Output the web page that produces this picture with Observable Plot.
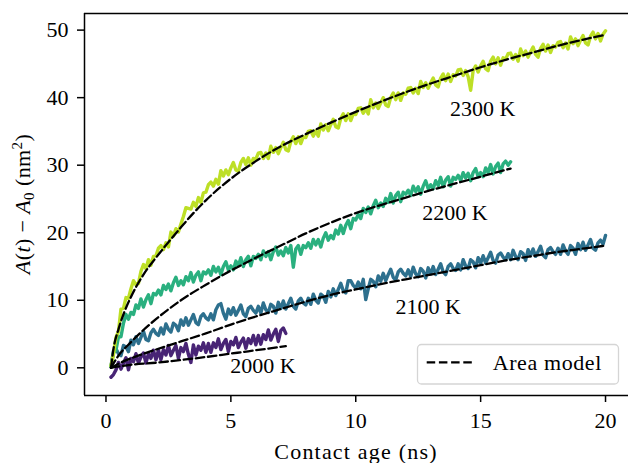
<!DOCTYPE html>
<html><head><meta charset="utf-8">
<script src="https://cdn.jsdelivr.net/npm/d3@7"></script>
<script src="https://cdn.jsdelivr.net/npm/@observablehq/plot@0.6"></script>
<style>
html,body{margin:0;padding:0;background:#fff;}
#chart svg{display:block;}
</style></head><body><div id="chart"></div>
<script>
// time grid (ns), 0.2 ... 20.0
const t = [0.2,0.3,0.4,0.5,0.6,0.7,0.8,0.9,
1,1.1,1.2,1.3,1.4,1.5,1.6,1.7,1.8,1.9,
2,2.1,2.2,2.3,2.4,2.5,2.6,2.7,2.8,2.9,
3,3.1,3.2,3.3,3.4,3.5,3.6,3.7,3.8,3.9,
4,4.1,4.2,4.3,4.4,4.5,4.6,4.7,4.8,4.9,
5,5.1,5.2,5.3,5.4,5.5,5.6,5.7,5.8,5.9,
6,6.1,6.2,6.3,6.4,6.5,6.6,6.7,6.8,6.9,
7,7.1,7.2,7.3,7.4,7.5,7.6,7.7,7.8,7.9,
8,8.1,8.2,8.3,8.4,8.5,8.6,8.7,8.8,8.9,
9,9.1,9.2,9.3,9.4,9.5,9.6,9.7,9.8,9.9,
10,10.1,10.2,10.3,10.4,10.5,10.6,10.7,10.8,10.9,
11,11.1,11.2,11.3,11.4,11.5,11.6,11.7,11.8,11.9,
12,12.1,12.2,12.3,12.4,12.5,12.6,12.7,12.8,12.9,
13,13.1,13.2,13.3,13.4,13.5,13.6,13.7,13.8,13.9,
14,14.1,14.2,14.3,14.4,14.5,14.6,14.7,14.8,14.9,
15,15.1,15.2,15.3,15.4,15.5,15.6,15.7,15.8,15.9,
16,16.1,16.2,16.3,16.4,16.5,16.6,16.7,16.8,16.9,
17,17.1,17.2,17.3,17.4,17.5,17.6,17.7,17.8,17.9,
18,18.1,18.2,18.3,18.4,18.5,18.6,18.7,18.8,18.9,
19,19.1,19.2,19.3,19.4,19.5,19.6,19.7,19.8,19.9,
20];

// A(t) - A0 (nm^2), simulation traces
const s2000 = [-1.4,-1.0,-0.3,0.8,-0.2,0.7,1.5,-0.3,
1.4,0.9,2.1,0.7,1.6,2.2,0.7,2.1,1.4,2.6,
1.2,2.6,1.2,2.7,1.9,3.3,1.8,2.6,3.3,1.4,
3.0,2.4,3.6,2.0,0.8,3.4,1.9,3.2,2.6,3.7,
2.3,3.6,2.3,3.7,3.0,4.3,2.7,3.6,4.2,2.4,
3.9,3.4,4.5,3.0,3.8,4.4,2.9,4.3,3.6,4.8,
3.4,4.8,3.5,4.9,4.2,5.6,4.1,5.0,5.7,3.9,
5.5,5.9,5.1];

const s2100 = [0.2,2.5,2.8,2.1,1.8,3.3,3.1,2.4,
4.1,3.4,4.6,3.6,4.5,5.4,4.2,4.0,5.2,5.7,
5.1,4.8,5.9,5.0,6.5,5.7,5.3,6.6,6.3,5.5,
7.1,6.3,7.4,6.3,7.1,7.9,6.7,6.4,7.6,8.0,
7.4,7.1,8.0,7.1,8.6,9.3,9.5,8.1,7.2,8.7,
7.9,8.9,7.8,8.5,9.3,8.0,7.6,8.8,9.1,8.5,
8.1,9.1,8.1,9.6,8.6,8.2,9.4,9.1,8.1,9.7,
8.8,9.9,8.7,9.5,10.3,9.1,8.7,9.9,10.3,9.6,
9.3,10.3,9.4,10.9,10.0,9.6,10.9,10.6,9.7,11.3,
10.5,11.7,10.7,11.6,12.5,11.4,11.1,12.9,12.9,12.2,
11.8,12.7,11.7,13.1,10.1,11.7,13.1,12.8,12.0,13.6,
12.8,14.0,12.9,13.8,14.6,13.4,13.0,14.2,14.6,14.0,
13.6,14.5,13.5,14.9,13.9,13.5,14.7,14.3,13.3,14.8,
13.9,15.0,13.8,14.6,15.4,14.2,13.8,15.0,15.4,14.7,
14.4,15.4,14.5,16.0,15.1,14.7,16.0,15.7,14.8,16.3,
15.5,16.6,15.5,16.3,17.1,15.9,15.5,16.7,17.0,16.4,
16.0,16.9,16.0,17.4,16.5,16.0,17.2,16.9,15.9,17.5,
16.6,17.6,16.5,17.2,18.0,16.7,16.3,17.5,17.8,17.2,
16.8,17.7,16.8,18.2,17.3,16.8,18.1,17.7,16.8,18.4,
17.5,18.6,17.4,18.2,19.0,17.7,17.4,18.5,18.9,18.3,
19.6];

const s2200 = [0.2,2.2,2.6,4.6,4.6,6.6,7.9,7.2,
8.2,7.9,9.3,8.8,10.2,9.0,10.1,10.8,9.5,11.0,
10.8,11.5,10.8,12.2,11.6,12.4,11.4,12.6,13.4,12.2,
12.9,12.3,13.5,12.9,14.1,12.7,13.7,14.2,12.9,14.2,
13.9,14.5,13.7,15.0,14.2,14.9,13.8,15.0,15.7,14.5,
15.1,14.5,15.8,15.1,16.3,15.0,16.0,16.5,15.1,16.5,
16.2,16.8,16.0,17.3,16.5,17.2,16.0,17.2,17.9,16.7,
17.3,16.6,17.8,17.0,18.1,14.9,17.6,18.1,16.8,18.1,
17.8,18.5,17.7,19.0,18.2,19.0,17.9,19.2,20.0,18.9,
19.6,19.1,20.4,19.8,21.1,19.9,21.1,21.8,20.6,22.1,
21.9,22.7,22.1,23.6,23.0,23.8,22.8,24.0,24.8,23.7,
24.4,23.9,25.1,24.5,25.8,24.4,25.5,26.0,24.6,26.0,
25.7,26.3,25.5,26.9,26.1,26.8,25.7,26.9,27.7,26.5,
27.1,26.5,27.7,27.0,28.2,26.8,27.8,28.3,26.9,28.2,
27.9,28.5,27.7,28.9,28.1,28.8,27.7,28.9,29.5,28.3,
28.9,28.3,29.6,28.9,30.1,28.7,29.8,30.3,28.9,30.2,
30.6,30.0,30.5];

const s2300 = [0.3,2.0,4.5,5.4,8.7,8.8,10.4,10.3,
11.7,12.9,12.3,12.5,14.3,15.3,14.7,16.0,15.2,16.5,
16.6,17.7,18.1,17.5,18.5,17.9,20.1,19.5,20.6,20.1,
21.3,22.4,23.7,23.6,23.5,24.5,23.9,25.2,24.5,25.9,
26.0,27.1,27.5,26.9,27.9,27.2,29.2,28.4,29.3,28.6,
29.6,30.4,29.3,29.1,30.4,31.0,30.1,31.1,30.0,31.0,
30.9,31.8,31.9,31.0,31.8,31.0,32.8,31.9,32.6,31.7,
32.6,33.4,32.3,32.1,33.5,34.2,33.2,34.2,33.2,34.2,
34.1,35.0,35.1,34.3,35.1,34.3,36.1,35.2,36.0,35.1,
36.0,36.8,35.7,35.5,36.9,37.6,36.6,37.6,36.6,37.6,
37.5,38.4,38.5,37.7,38.4,37.6,39.7,38.5,39.2,38.4,
39.2,40.0,38.9,38.7,40.0,40.7,39.7,40.7,39.6,40.7,
40.5,41.4,41.5,40.7,41.4,40.6,42.4,41.5,42.2,41.4,
42.2,42.9,41.9,41.6,42.9,43.5,42.5,43.5,42.4,43.4,
43.2,44.1,44.2,43.3,44.0,43.1,41.1,44.0,44.7,43.8,
44.7,45.4,44.3,44.0,45.4,46.0,45.0,45.9,44.8,45.9,
45.7,46.5,46.6,45.7,46.4,45.4,47.2,46.2,46.9,46.0,
46.8,47.5,46.4,46.0,47.3,47.9,46.9,47.8,46.7,47.7,
47.5,48.2,48.3,47.4,48.1,47.2,49.0,48.0,48.7,47.7,
48.5,49.2,48.1,47.8,49.1,49.7,48.7,49.5,48.4,49.4,
49.9];

// area model curves
const m2000T = [0.2,0.5,1,2,3,4,5,6,7.2];
const m2000 = [0,0.2,0.45,0.75,1.15,1.6,2.1,2.6,3.2];
const m2100T = [0.2,0.5,1,2,3,4,5,6,7,8,9,10,11,12,13,14,15,16,17,18,19,20];
const m2100 = [0,0.6,1.4,2.7,3.9,5.1,6.4,7.6,8.7,9.8,10.8,11.6,12.4,13.1,13.8,14.5,15.2,15.9,16.5,17.1,17.6,18.1];
const m2200T = [0.2,0.5,1,1.5,2,3,4,5,6,7,8,9,10,11,12,13,14,15,16.2];
const m2200 = [0,1.8,3.8,5.6,7.2,10.0,12.3,14.4,16.3,18.1,19.9,21.5,22.9,24.1,25.2,26.3,27.3,28.3,29.5];
const m2300T = [0.2,0.3,0.5,0.75,1,1.5,2,2.5,3,3.5,4,5,6,7,8,9,10,11,12,13,14,15,16,17,18,19,20];
const m2300 = [0,2.8,5.7,8.4,10.5,13.8,16.3,18.6,20.8,22.9,24.8,28.0,30.6,32.8,34.6,36.3,37.9,39.4,40.8,42.1,43.3,44.5,45.6,46.6,47.6,48.5,49.3];

const seriesNames = ["2000 K","2100 K","2200 K","2300 K"];
const labelT = [4.98, 11.59, 12.66, 13.77];
const labelV = [0.22, 8.97, 23.0, 38.3];
const xTicks = [0,5,10,15,20];
const yTicks = [0,10,20,30,40,50];
const xDomain = [-0.86, 20.92];
const yDomain = [-4.1, 52.46];
const colors = [0.1, 0.3667, 0.6333, 0.9].map(d3.interpolateViridis);

const rows = (name, ts, vs) => vs.map((v, i) => ({series: name, t: ts[i], v}));
const data = [
  ...rows(seriesNames[0], t, s2000),
  ...rows(seriesNames[1], t, s2100),
  ...rows(seriesNames[2], t, s2200),
  ...rows(seriesNames[3], t, s2300)
];
const models = [
  ...rows(seriesNames[0], m2000T, m2000),
  ...rows(seriesNames[1], m2100T, m2100),
  ...rows(seriesNames[2], m2200T, m2200),
  ...rows(seriesNames[3], m2300T, m2300)
];
const labels = seriesNames.map((s, i) => ({text: s, t: labelT[i], v: labelV[i]}));

const FONT = "'Liberation Serif', 'Times New Roman', serif";
const W = 628, H = 463, mL = 84, mR = 0, mT = 13, mB = 68;
const plot = Plot.plot({
  width: W, height: H,
  marginLeft: mL, marginRight: mR, marginTop: mT, marginBottom: mB,
  style: {fontFamily: FONT, fontSize: "22px", background: "#fff", color: "#000"},
  x: {domain: xDomain, label: null},
  y: {domain: yDomain, label: null},
  color: {domain: seriesNames, range: colors},
  marks: [
    Plot.line(data, {x: "t", y: "v", z: "series", stroke: "series", strokeWidth: 3.4}),
    Plot.line(models, {x: "t", y: "v", z: "series", stroke: "black", strokeWidth: 2.3, strokeDasharray: "8.5,3.7", curve: "monotone-x"}),
    Plot.text(labels, {x: "t", y: "v", text: "text", textAnchor: "start", lineAnchor: "middle", fill: "black", fontSize: 22, fontFamily: FONT}),
    Plot.axisX(xTicks, {tickSize: 7, tickPadding: 10, strokeWidth: 1.5, label: null, fontSize: 22, fontFamily: FONT}),
    Plot.axisY(yTicks, {tickSize: 7, tickPadding: 9, strokeWidth: 1.5, label: null, fontSize: 22, fontFamily: FONT}),
    Plot.ruleX([xDomain[0]], {stroke: "black", strokeWidth: 1.5}),
    Plot.ruleY([yDomain[0], yDomain[1]], {stroke: "black", strokeWidth: 1.5})
  ]
});
document.getElementById("chart").appendChild(plot);

const svg = d3.select(plot);
// axis titles
svg.append("text")
  .attr("x", (mL + W - mR) / 2).attr("y", 459)
  .attr("text-anchor", "middle").attr("font-family", FONT).attr("font-size", 22).attr("letter-spacing", "1.2px")
  .text("Contact age (ns)");
const yl = svg.append("text")
  .attr("transform", `translate(30,${(mT + H - mB) / 2}) rotate(-90)`)
  .attr("text-anchor", "middle").attr("font-family", FONT).attr("font-size", 22).attr("letter-spacing", "0.4px");
yl.append("tspan").attr("font-style", "italic").text("A");
yl.append("tspan").text("(");
yl.append("tspan").attr("font-style", "italic").text("t");
yl.append("tspan").text(") \u2212 ");
yl.append("tspan").attr("font-style", "italic").text("A");
yl.append("tspan").attr("font-size", 15).attr("dy", 4).text("0");
yl.append("tspan").attr("dy", -4).text(" (nm");
yl.append("tspan").attr("font-size", 15).attr("dy", -8).text("2");
yl.append("tspan").attr("dy", 8).text(")");

// legend
const lg = svg.append("g");
lg.append("rect").attr("x", 417.5).attr("y", 344.5).attr("width", 201).attr("height", 39.5)
  .attr("rx", 4).attr("fill", "#fff").attr("fill-opacity", 0.8).attr("stroke", "#d5d5d5").attr("stroke-width", 1.3);
lg.append("line").attr("x1", 426.7).attr("x2", 472.3).attr("y1", 362.3).attr("y2", 362.3)
  .attr("stroke", "black").attr("stroke-width", 2.3).attr("stroke-dasharray", "8.5,3.7");
lg.append("text").attr("x", 492.7).attr("y", 369.5).attr("text-anchor", "start")
  .attr("font-family", FONT).attr("font-size", 22).attr("letter-spacing", "0.6px").text("Area model");
</script></body></html>
